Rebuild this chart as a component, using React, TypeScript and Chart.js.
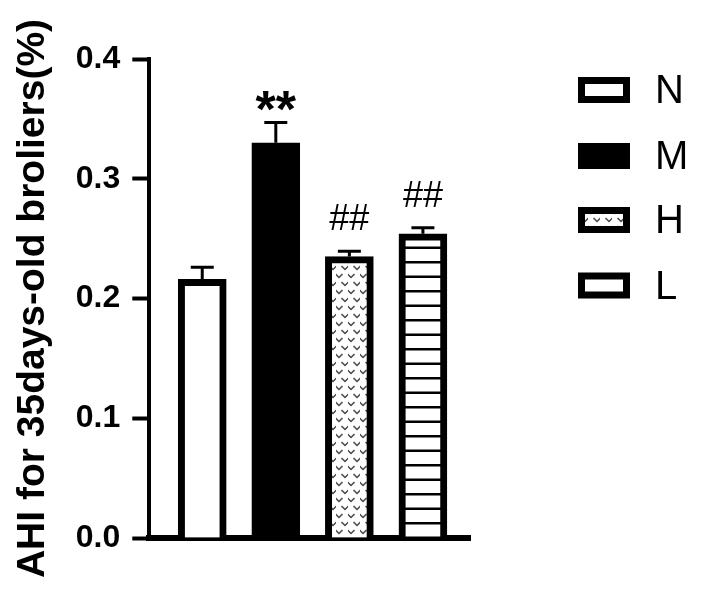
import { useEffect, useRef } from 'react';
import { Chart, registerables } from 'chart.js';

Chart.register(...registerables);

const groups = ['N', 'M', 'H', 'L'];
const means = [0.216, 0.330, 0.235, 0.254];
const sems = [0.010, 0.017, 0.0045, 0.005];
const marks = ['', '**', '##', '##'];
const yTicks = [0, 0.1, 0.2, 0.3, 0.4];
const yTitle = 'AHI for 35days-old broliers(%)';

const FONT = '"Liberation Sans", Arial, sans-serif';

function makeHeartPattern(ctx: CanvasRenderingContext2D) {
  const c = document.createElement('canvas');
  c.width = 12;
  c.height = 16;
  const g = c.getContext('2d')!;
  g.fillStyle = '#ffffff';
  g.fillRect(0, 0, 12, 16);
  g.strokeStyle = '#474747';
  g.lineWidth = 1.5;
  const v = (x: number, y: number) => {
    g.beginPath();
    g.moveTo(x - 3.5, y - 2);
    g.lineTo(x, y + 1.5);
    g.lineTo(x + 3.5, y - 2);
    g.stroke();
  };
  v(3, 4);
  v(9, 12);
  return ctx.createPattern(c, 'repeat')!;
}

function makeLinePattern(ctx: CanvasRenderingContext2D) {
  const c = document.createElement('canvas');
  c.width = 8;
  c.height = 29;
  const g = c.getContext('2d')!;
  g.fillStyle = '#ffffff';
  g.fillRect(0, 0, 8, 29);
  g.fillStyle = '#000000';
  g.fillRect(0, 0, 8, 2.5);
  g.fillRect(0, 14.5, 8, 2.5);
  return ctx.createPattern(c, 'repeat')!;
}

export default function App() {
  const ref = useRef<HTMLCanvasElement | null>(null);

  useEffect(() => {
    const canvas = ref.current!;
    const ctx = canvas.getContext('2d')!;
    const heart = makeHeartPattern(ctx);
    const lines = makeLinePattern(ctx);
    const barFills: any[] = ['#ffffff', '#000000', heart, lines];
    const legendFills: any[] = ['#ffffff', '#000000', heart, '#ffffff'];

    const errorPlugin = {
      id: 'errorBars',
      afterDatasetsDraw(chart: any) {
        const c = chart.ctx;
        const xs = chart.scales.x;
        const ys = chart.scales.y;
        c.save();
        c.strokeStyle = '#000';
        c.fillStyle = '#000';
        c.lineWidth = 3;
        means.forEach((m, i) => {
          const x = xs.getPixelForValue(i);
          const yBar = ys.getPixelForValue(m);
          const yTop = ys.getPixelForValue(m + sems[i]);
          c.beginPath();
          c.moveTo(x, yBar);
          c.lineTo(x, yTop);
          c.moveTo(x - 11.5, yTop);
          c.lineTo(x + 11.5, yTop);
          c.stroke();
          const label = marks[i];
          if (label) {
            const isStar = label.includes('*');
            c.font = isStar ? `bold 52px ${FONT}` : `36px ${FONT}`;
            c.textAlign = 'center';
            c.textBaseline = 'alphabetic';
            const mt = c.measureText(label);
            const gap = isStar ? 11 : 21;
            const baseline = yTop - gap - mt.actualBoundingBoxDescent;
            c.fillText(label, x, baseline);
          }
        });
        c.restore();
      },
    };

    const legendPlugin = {
      id: 'customLegend',
      afterDraw(chart: any) {
        const c = chart.ctx;
        c.save();
        const boxX = 578;
        const boxW = 52;
        const boxH = 26;
        const bw = 7;
        const rowY = [90, 156, 220, 285.5];
        groups.forEach((g, i) => {
          const cy = rowY[i];
          const top = cy - boxH / 2;
          c.fillStyle = '#000';
          c.fillRect(boxX, top, boxW, boxH);
          c.fillStyle = legendFills[i];
          c.fillRect(boxX + bw, top + bw, boxW - 2 * bw, boxH - 2 * bw);
          c.fillStyle = '#000';
          c.font = `40px ${FONT}`;
          c.textAlign = 'left';
          c.textBaseline = 'middle';
          c.fillText(g, 655, cy + 2);
        });
        c.restore();
      },
    };

    const chart = new Chart(canvas, {
      type: 'bar',
      data: {
        labels: groups,
        datasets: [
          {
            label: 'AHI',
            data: means.map((m, i) => ({ x: i, y: m })),
            backgroundColor: barFills,
            borderColor: '#000000',
            borderWidth: 7,
            barThickness: 48,
          },
        ],
      },
      options: {
        responsive: false,
        animation: false,
        layout: { padding: { left: 10, top: 59, right: 234, bottom: 51 } },
        plugins: {
          legend: { display: false },
          tooltip: { enabled: false },
        },
        scales: {
          x: {
            type: 'linear',
            offset: false,
            min: -0.72,
            max: 3.64,
            ticks: { display: false },
            grid: { display: false, drawTicks: false },
            border: { display: true, color: '#000', width: 6 },
          },
          y: {
            min: yTicks[0],
            max: yTicks[yTicks.length - 1],
            afterBuildTicks: (scale: any) => {
              scale.ticks = yTicks.map((v) => ({ value: v }));
            },
            ticks: {
              color: '#000',
              padding: 12,
              font: { family: FONT, size: 32, weight: 'bold' },
              callback: (v: any) => Number(v).toFixed(1),
            },
            grid: {
              display: true,
              drawOnChartArea: false,
              drawTicks: true,
              tickLength: 17,
              tickWidth: 4,
              tickColor: '#000',
            },
            border: { display: true, color: '#000', width: 4 },
            title: {
              display: true,
              text: yTitle,
              color: '#000',
              font: { family: FONT, size: 39, weight: 'bold' },
              padding: { top: 0, bottom: 7 },
            },
          },
        },
      },
      plugins: [errorPlugin, legendPlugin],
    });
    return () => chart.destroy();
  }, []);

  return (
    <div style={{ position: 'absolute', left: 0, top: 0, width: 704, height: 589, background: '#fff' }}>
      <canvas ref={ref} width={704} height={589} style={{ display: 'block', width: 704, height: 589 }} />
    </div>
  );
}
